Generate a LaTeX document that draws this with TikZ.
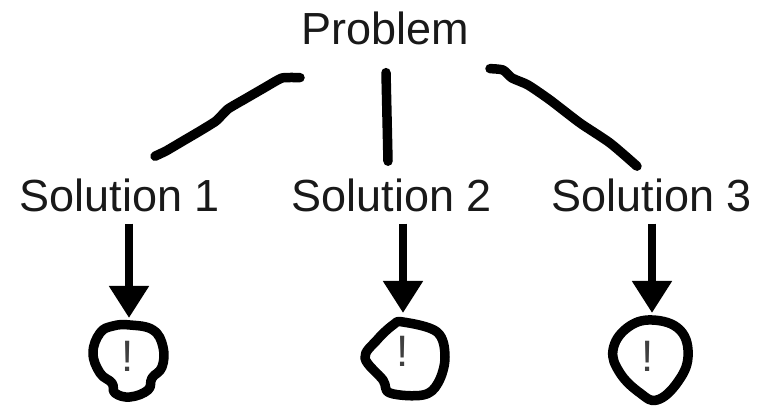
\documentclass[tikz,border=0pt]{standalone}
\usepackage{fontspec}
\setmainfont{Liberation Sans}
\usetikzlibrary{calc,arrows.meta}

\begin{document}
\begin{tikzpicture}[x=1pt, y=-1pt,
        word/.style={inner sep=0pt, anchor=base, text=black!90, font=\fontsize{45}{54}\selectfont},
        bang/.style={inner sep=0pt, text=black!75, font=\fontsize{44}{52}\selectfont},
        ink/.style={black, line width=9.5pt, line cap=round, line join=round},
        inkarrow/.style={black, line width=8pt, -{Triangle[length=32pt, width=38pt]}}]
        \useasboundingbox (0,0) rectangle (769,406);

        \node[word] (prob) at (385,45) {Problem};
        \node[word] (sol1) at (120,212) {Solution 1};
        \node[word] (sol2) at (392,212) {Solution 2};
        \node[word] (sol3) at (652,212) {Solution 3};

        \node[bang] (bang1) at (128,356) {!};
        \node[bang] (bang2) at (403,351) {!};
        \node[bang] (bang3) at (648,356) {!};

        % ends of the hand drawn lines
        \coordinate (top1) at ($(prob.south)+(-85,32)$);
        \coordinate (top2) at ($(prob.south)+(1,27)$);
        \coordinate (top3) at ($(prob.south)+(105,23)$);
        \coordinate (end1) at ($(sol1.north)+(35,-23)$);
        \coordinate (end2) at ($(sol2.north)+(-4,-18)$);
        \coordinate (end3) at ($(sol3.north)+(-15,-13)$);
        \coordinate (tip1) at ($(bang1)+(1,-38)$);
        \coordinate (tip2) at ($(bang2)+(0,-38)$);
        \coordinate (tip3) at ($(bang3)+(4,-43)$);

        \draw[ink] plot[smooth, tension=0.3] coordinates {(top1) (282,78) (264,88) (245,99) (228,109) (216,121) (200,131) (183,141) (166,151) (end1)}; % left
        \draw[ink] (top2) -- (end2); % middle
        \draw[ink] plot[smooth, tension=0.4] coordinates {(top3) (503,70) (512,78) (528,85) (550,100) (580,123) (610,143) (end3)}; % right

        \draw[inkarrow] ($(sol1.south -| tip1)+(0,11)$) -- (tip1);
        \draw[inkarrow] ($(sol2.south -| tip2)+(0,11)$) -- (tip2);
        \draw[inkarrow] ($(sol3.south -| tip3)+(0,11)$) -- (tip3);

        % blobs round the marks
        \draw[ink, shift={(bang1)}] plot[smooth cycle, tension=0.7] coordinates {(2,-31) (25,-26) (35,-9) (34,11) (24,22) (20,34) (2,41) (-13,37) (-16,27) (-28,17) (-35,-3) (-28,-23) (-15,-30)};
        \draw[ink, shift={(bang2)}] plot[smooth cycle, tension=0.6] coordinates {(0,-29) (34,-19) (42,6) (35,32) (20,44) (-13,42) (-20,29) (-38,7) (-26,-11) (-10,-26)};
        \draw[ink, shift={(bang3)}] plot[smooth cycle, tension=0.7] coordinates {(4,-36) (32,-26) (40,1) (29,27) (9,44) (-8,37) (-28,17) (-35,-6) (-21,-28)};
\end{tikzpicture}
\end{document}
